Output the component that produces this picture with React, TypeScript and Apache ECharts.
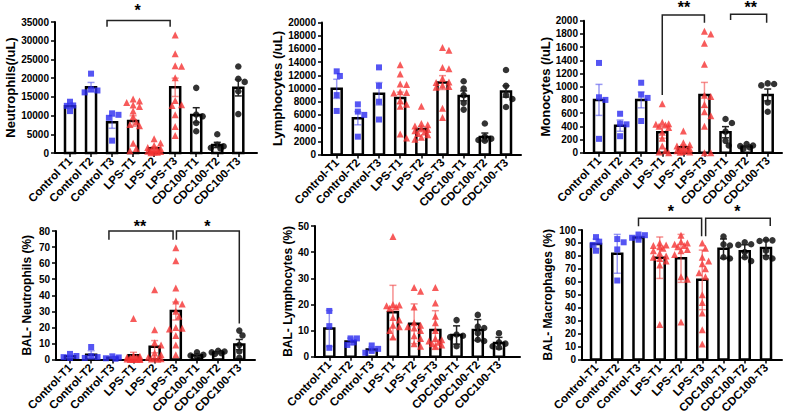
import React, { useEffect, useRef } from "react";
import * as echarts from "echarts";

// ---- Group names ----
const groupsSpaced = ["Control T1", "Control T2", "Control T3", "LPS-T1", "LPS-T2", "LPS-T3", "CDC100-T1", "CDC100-T2", "CDC100-T3"];
const groupsDashed = ["Control-T1", "Control-T2", "Control-T3", "LPS-T1", "LPS-T2", "LPS-T3", "CDC100-T1", "CDC100-T2", "CDC100-T3"];

// ---- Blood neutrophils (/uL), mean ± SEM ----
const neutrophilsMean = [12500, 17600, 8200, 8550, 1250, 17550, 10150, 2150, 17450];
const neutrophilsErr = [550, 1250, 1600, 1400, 400, 2450, 1950, 700, 2200];
const neutrophilsPts = [
  [13700, 12700, 12600, 11200],
  [21200, 17000, 16700, 16200],
  [10600, 10200, 9400, 3300],
  [14400, 13900, 13500, 12800, 12400, 11200, 9700, 8300, 7600, 7300, 2600, 1200, 600],
  [3800, 2700, 2000, 1500, 1200, 1000, 800, 600, 500, 400, 300, 200, 100],
  [31500, 26500, 23300, 23200, 20100, 14000, 12900, 12700, 10200, 7100, 4700],
  [17400, 10300, 9800, 8000, 5800],
  [5000, 2200, 1800, 1400, 1200],
  [23100, 19800, 19000, 16500, 10400],
];

// ---- Blood lymphocytes (/uL), mean ± SEM ----
const lymphocytesMean = [9950, 5500, 9200, 8550, 3850, 10900, 8880, 2650, 9550];
const lymphocytesErr = [1450, 1000, 1700, 900, 400, 1050, 750, 600, 850];
const lymphocytesPts = [
  [12600, 11900, 9000, 6600],
  [7600, 6500, 6000, 2700],
  [13200, 10400, 8000, 5300],
  [13600, 12200, 10700, 10600, 9500, 9400, 9300, 8200, 7600, 7300, 3100, 2500],
  [7300, 4700, 4500, 4300, 4000, 3800, 3600, 3400, 3200, 3000, 2600, 2300],
  [16200, 15800, 13200, 13000, 11500, 11000, 10900, 10500, 10300, 10200, 7000, 5600],
  [11100, 10000, 9000, 7800, 6800],
  [4700, 2700, 2400, 2200, 2100],
  [12800, 10400, 9000, 8400, 7200],
];

// ---- Blood monocytes (/uL), mean ± SEM ----
const monocytesMean = [800, 410, 800, 310, 82, 875, 310, 92, 875];
const monocytesErr = [235, 85, 120, 90, 30, 190, 85, 12, 90];
const monocytesPts = [
  [1360, 840, 800, 210],
  [590, 440, 430, 250],
  [1060, 880, 830, 480],
  [740, 460, 440, 430, 420, 400, 380, 310, 220, 100, 30, 10, 0],
  [330, 150, 120, 100, 80, 60, 50, 40, 30, 20, 10, 5],
  [1840, 1800, 1660, 1340, 870, 850, 730, 620, 560, 400, 0, 0],
  [510, 450, 320, 180, 110],
  [130, 110, 100, 80, 60],
  [1050, 1040, 1020, 760, 620],
];

// ---- BAL neutrophils (%), mean ± SEM ----
const balNeutroMean = [2.0, 3.0, 1.1, 2.7, 8.0, 30.2, 2.6, 4.2, 9.3];
const balNeutroErr = [0.7, 2.5, 0.4, 1.8, 3.8, 5.6, 0.7, 0.4, 3.2];
const balNeutroPts = [
  [3.5, 2.2, 1.5, 1.0],
  [7.8, 2.0, 1.5, 1.0],
  [2.0, 1.3, 0.8, 0.5],
  [25.5, 2.5, 2, 1.5, 1.2, 1, 0.8, 0.5, 0.3, 0.2, 0.1, 0, 0],
  [43.5, 18.5, 10.5, 9, 4, 3, 1.5, 1, 0.5, 0.3, 0.2],
  [69.5, 61.5, 44.5, 36.5, 34.5, 30, 27, 20, 19.5, 19, 15, 9, 3],
  [4.5, 3, 2.5, 2, 1.5],
  [5.5, 5, 4.5, 4, 3.5],
  [18, 15, 9, 5, 1],
];

// ---- BAL lymphocytes (%), mean ± SD ----
const balLymphoMean = [10.8, 5.8, 2.8, 17.0, 12.6, 10.2, 8.3, 10.2, 5.2];
const balLymphoErr = [6.9, 1.3, 0.9, 10.3, 7.6, 7.4, 3.5, 4.0, 2.2];
const balLymphoPts = [
  [17.5, 11.7, 3.4],
  [7, 7, 5.5, 4.5],
  [4.3, 3, 2.2, 1.5],
  [46, 20, 19.8, 19.5, 19, 18.5, 15, 14, 12, 11.5, 10, 7.5],
  [26.5, 25, 19, 13, 12, 11.5, 11, 10, 8, 7, 5, 4],
  [26.5, 20.5, 15.5, 13, 10, 7, 6.5, 6, 5.5, 5, 4.5, 4],
  [14, 8.5, 8, 7.5, 4],
  [16, 11.5, 11, 9, 6.5, 6],
  [9, 5.5, 5, 4, 3.5],
];

// ---- BAL macrophages (%), mean ± SD ----
const balMacroMean = [89.2, 81.6, 94.2, 78.6, 78.1, 61.5, 85.6, 83.6, 86.2];
const balMacroErr = [3.8, 15, 1.5, 16, 18.5, 23, 7.5, 5, 6];
const balMacroPts = [
  [94.5, 91, 88.5, 84],
  [93, 90.5, 85, 61],
  [96.5, 96, 94, 92.5],
  [90, 88.5, 88, 87, 86, 84, 82, 80, 79, 78, 76, 73, 27],
  [96, 91, 90, 89, 88, 87, 85, 84, 81, 64, 62, 29],
  [90, 86, 79, 76, 74, 70, 67, 64, 50, 44, 36, 23, 12],
  [95, 89, 88, 79, 78],
  [90.5, 89, 88.5, 83, 79, 76],
  [92.5, 92, 91.5, 84, 79, 78],
];

// ---- Significance brackets (x in group index, y in axis units) ----
const neutrophilsBrackets = [{ x1: 1.76, x2: 4.76, top: 35400, y1: 33700, y2: 33700 }];
const neutrophilsStars = [{ x: 3.21, y: 38200, text: "*" }];
const monocytesBrackets = [
  { x1: 3.0, x2: 5.0, top: 2086, y1: 874, y2: 1970 },
  { x1: 6.24, x2: 7.95, top: 2097, y1: 2010, y2: 1970 },
];
const monocytesStars = [
  { x: 4.03, y: 2200, text: "**" },
  { x: 7.19, y: 2200, text: "**" },
];
const balNeutroBrackets = [
  { x1: 1.84, x2: 4.87, top: 80, y1: 74.5, y2: 74.5 },
  { x1: 5.03, x2: 8.0, top: 80, y1: 74.5, y2: 22.5 },
];
const balNeutroStars = [
  { x: 3.31, y: 82.8, text: "**" },
  { x: 6.49, y: 82.8, text: "*" },
];
const balMacroBrackets = [
  { x1: 2.0, x2: 4.97, top: 109.1, y1: 102.8, y2: 95.2 },
  { x1: 5.16, x2: 8.2, top: 109.1, y1: 95.2, y2: 103 },
];
const balMacroStars = [
  { x: 3.52, y: 114, text: "*" },
  { x: 6.65, y: 114, text: "*" },
];

const FONT = "'Liberation Sans', Arial, Helvetica, sans-serif";

// Control / LPS / CDC100 styling
const GROUP_STYLE = [
  { symbol: "rect", size: 6, color: "#2b2bf0", err: "rgba(70,70,235,0.55)" },
  { symbol: "triangle", size: 7, color: "#f53232", err: "rgba(240,70,70,0.6)" },
  { symbol: "circle", size: 6.5, color: "#000000", err: "#222222" },
];

type Layout = {
  axisX: number; firstX: number; lastX: number; rightX: number;
  topY: number; baseY: number; nameGap: number; nameSize: number;
};

type Panel = {
  name: string; cats: string[]; mean: number[]; err: number[]; pts: number[][];
  max: number; interval: number;
  brackets: { x1: number; x2: number; top: number; y1: number; y2: number }[];
  stars: { x: number; y: number; text: string }[];
  layout: Layout;
};

const panels: Panel[] = [
  {
    name: "Neutrophils(/uL)", cats: groupsSpaced, mean: neutrophilsMean, err: neutrophilsErr, pts: neutrophilsPts,
    max: 35000, interval: 5000, brackets: neutrophilsBrackets, stars: neutrophilsStars,
    layout: { axisX: 55, firstX: 70, lastX: 238.3, rightX: 257, topY: 22, baseY: 153, nameGap: 38, nameSize: 13 },
  },
  {
    name: "Lymphocytes (/uL)", cats: groupsDashed, mean: lymphocytesMean, err: lymphocytesErr, pts: lymphocytesPts,
    max: 20000, interval: 2000, brackets: [], stars: [],
    layout: { axisX: 322, firstX: 336.7, lastX: 506, rightX: 521, topY: 22.5, baseY: 154.5, nameGap: 38, nameSize: 13 },
  },
  {
    name: "Monocytes (/uL)", cats: groupsSpaced, mean: monocytesMean, err: monocytesErr, pts: monocytesPts,
    max: 2000, interval: 200, brackets: monocytesBrackets, stars: monocytesStars,
    layout: { axisX: 584, firstX: 599, lastX: 767.7, rightX: 782, topY: 20.7, baseY: 152.7, nameGap: 32, nameSize: 13 },
  },
  {
    name: "BAL- Neutrophils (%)", cats: groupsDashed, mean: balNeutroMean, err: balNeutroErr, pts: balNeutroPts,
    max: 80, interval: 10, brackets: balNeutroBrackets, stars: balNeutroStars,
    layout: { axisX: 56, firstX: 70, lastX: 239.3, rightX: 255, topY: 231, baseY: 362, nameGap: 23, nameSize: 12 },
  },
  {
    name: "BAL- Lymphocytes (%)", cats: groupsDashed, mean: balLymphoMean, err: balLymphoErr, pts: balLymphoPts,
    max: 50, interval: 10, brackets: [], stars: [],
    layout: { axisX: 315, firstX: 329.3, lastX: 499, rightX: 520, topY: 226, baseY: 356.7, nameGap: 21.5, nameSize: 12 },
  },
  {
    name: "BAL- Macrophages (%)", cats: groupsDashed, mean: balMacroMean, err: balMacroErr, pts: balMacroPts,
    max: 100, interval: 10, brackets: balMacroBrackets, stars: balMacroStars,
    layout: { axisX: 582, firstX: 596, lastX: 766, rightX: 782, topY: 230, baseY: 362.3, nameGap: 28, nameSize: 12 },
  },
];

// Simple beeswarm: spread overlapping points sideways (in pixels), returned in x-axis units.
function swarmOffsets(values: number[], pxPerY: number, pxPerX: number, size: number): number[] {
  const order = values.map((_, i) => i).sort((a, b) => values[b] - values[a]);
  const placed: { x: number; y: number }[] = [];
  const offs = new Array(values.length).fill(0);
  const stepPx = 3.2;
  const cands = [0, 1, -1, 2, -2].map((k) => k * stepPx);
  for (const i of order) {
    const y = values[i] * pxPerY;
    let best = 0;
    let bestD = -1;
    for (const c of cands) {
      let dmin = Infinity;
      for (const p of placed) dmin = Math.min(dmin, Math.hypot(p.x - c, p.y - y));
      if (dmin >= size * 0.8) { best = c; break; }
      if (dmin > bestD) { bestD = dmin; best = c; }
    }
    placed.push({ x: best, y });
    offs[i] = best / pxPerX;
  }
  return offs;
}

function groupOf(i: number) {
  return i < 3 ? 0 : i < 6 ? 1 : 2;
}

function buildOption() {
  const grid: any[] = [];
  const xAxis: any[] = [];
  const yAxis: any[] = [];
  const series: any[] = [];

  panels.forEach((p, k) => {
    const L = p.layout;
    const step = (L.lastX - L.firstX) / 8;
    const min = -(L.firstX - L.axisX) / step;
    const max = min + (L.rightX - L.axisX) / step;
    const height = L.baseY - L.topY;
    const idx = p.cats.map((_, i) => i);

    grid.push({ left: L.axisX, top: L.topY, width: L.rightX - L.axisX, height });

    xAxis.push({
      type: "value", gridIndex: k, min, max,
      splitLine: { show: false },
      axisLine: { show: true, onZero: false, lineStyle: { color: "#000", width: 2 } },
      axisTick: { show: true, customValues: idx, length: 4, lineStyle: { color: "#000", width: 1.5 } },
      axisLabel: {
        show: true, customValues: idx,
        formatter: (v: number) => p.cats[Math.round(v)] ?? "",
        rotate: 46, margin: 6, fontSize: 11.5, fontWeight: "bold", color: "#000", fontFamily: FONT,
      },
    });

    yAxis.push({
      type: "value", gridIndex: k, min: 0, max: p.max, interval: p.interval,
      name: p.name, nameLocation: "middle", nameGap: L.nameGap,
      nameTextStyle: { fontSize: L.nameSize, fontWeight: "bold", color: "#000", fontFamily: FONT },
      splitLine: { show: false },
      axisLine: { show: true, onZero: false, lineStyle: { color: "#000", width: 2 } },
      axisTick: { show: true, length: 4, lineStyle: { color: "#000", width: 1.5 } },
      axisLabel: {
        margin: 6, fontSize: 10, fontWeight: "bold", color: "#000", fontFamily: FONT,
        formatter: (v: number) => String(v),
      },
    });

    // Bars (white fill, heavy black outline)
    series.push({
      type: "custom", xAxisIndex: k, yAxisIndex: k, clip: false, z: 2, silent: true,
      data: p.mean.map((m, i) => [i, m]),
      renderItem: (_params: any, api: any) => {
        const top = api.coord([api.value(0), api.value(1)]);
        const base = api.coord([api.value(0), 0]);
        return {
          type: "rect",
          shape: { x: top[0] - 5, y: top[1], width: 10, height: base[1] - top[1] },
          style: { fill: "#fff", stroke: "#000", lineWidth: 2.5 },
        };
      },
    });

    // Individual animals
    const pxPerY = height / p.max;
    for (let g = 0; g < 3; g++) {
      const st = GROUP_STYLE[g];
      const data: number[][] = [];
      p.pts.forEach((vals, i) => {
        if (groupOf(i) !== g) return;
        const offs = swarmOffsets(vals, pxPerY, step, st.size);
        vals.forEach((v, j) => data.push([i + offs[j], v]));
      });
      series.push({
        type: "scatter", xAxisIndex: k, yAxisIndex: k, z: 3, silent: true,
        symbol: st.symbol, symbolSize: st.size,
        itemStyle: { color: st.color },
        data,
      });
    }

    // Error bars
    series.push({
      type: "custom", xAxisIndex: k, yAxisIndex: k, clip: false, z: 4, silent: true,
      data: p.mean.map((m, i) => [i, m, p.err[i]]),
      renderItem: (params: any, api: any) => {
        const x = api.value(0);
        const m = api.value(1);
        const e = api.value(2);
        const hi = api.coord([x, m + e]);
        const lo = api.coord([x, Math.max(0, m - e)]);
        const color = GROUP_STYLE[groupOf(params.dataIndex)].err;
        const style = { stroke: color, lineWidth: 1.5, fill: "none" };
        return {
          type: "group",
          children: [
            { type: "line", shape: { x1: hi[0], y1: hi[1], x2: lo[0], y2: lo[1] }, style },
            { type: "line", shape: { x1: hi[0] - 3.5, y1: hi[1], x2: hi[0] + 3.5, y2: hi[1] }, style },
            { type: "line", shape: { x1: lo[0] - 3.5, y1: lo[1], x2: lo[0] + 3.5, y2: lo[1] }, style },
          ],
        };
      },
    });

    // Significance brackets
    if (p.brackets.length) {
      series.push({
        type: "custom", xAxisIndex: k, yAxisIndex: k, clip: false, z: 5, silent: true,
        data: p.brackets.map((b) => [b.x1, b.top]),
        renderItem: (params: any, api: any) => {
          const b = p.brackets[params.dataIndex];
          const a = api.coord([b.x1, b.y1]);
          const t1 = api.coord([b.x1, b.top]);
          const t2 = api.coord([b.x2, b.top]);
          const c = api.coord([b.x2, b.y2]);
          return {
            type: "polyline",
            shape: { points: [a, t1, t2, c] },
            style: { stroke: "#222", lineWidth: 1.5, fill: "none" },
          };
        },
      });
      series.push({
        type: "custom", xAxisIndex: k, yAxisIndex: k, clip: false, z: 5, silent: true,
        data: p.stars.map((s) => [s.x, s.y]),
        renderItem: (params: any, api: any) => {
          const s = p.stars[params.dataIndex];
          const pt = api.coord([s.x, s.y]);
          return {
            type: "text",
            x: pt[0], y: pt[1],
            style: {
              text: s.text, fontSize: 16, fontWeight: "bold", fontFamily: FONT, fill: "#000",
              align: "center", verticalAlign: "middle",
            },
          };
        },
      });
    }
  });

  return { animation: false, backgroundColor: "#fff", grid, xAxis, yAxis, series };
}

export default function App() {
  const ref = useRef<HTMLDivElement>(null);
  useEffect(() => {
    if (!ref.current) return;
    const chart = echarts.init(ref.current, undefined, { renderer: "svg" });
    chart.setOption(buildOption() as any);
    return () => chart.dispose();
  }, []);
  return (
    <div
      ref={ref}
      style={{ position: "absolute", left: 0, top: 0, width: 786, height: 416, background: "#fff" }}
    />
  );
}
